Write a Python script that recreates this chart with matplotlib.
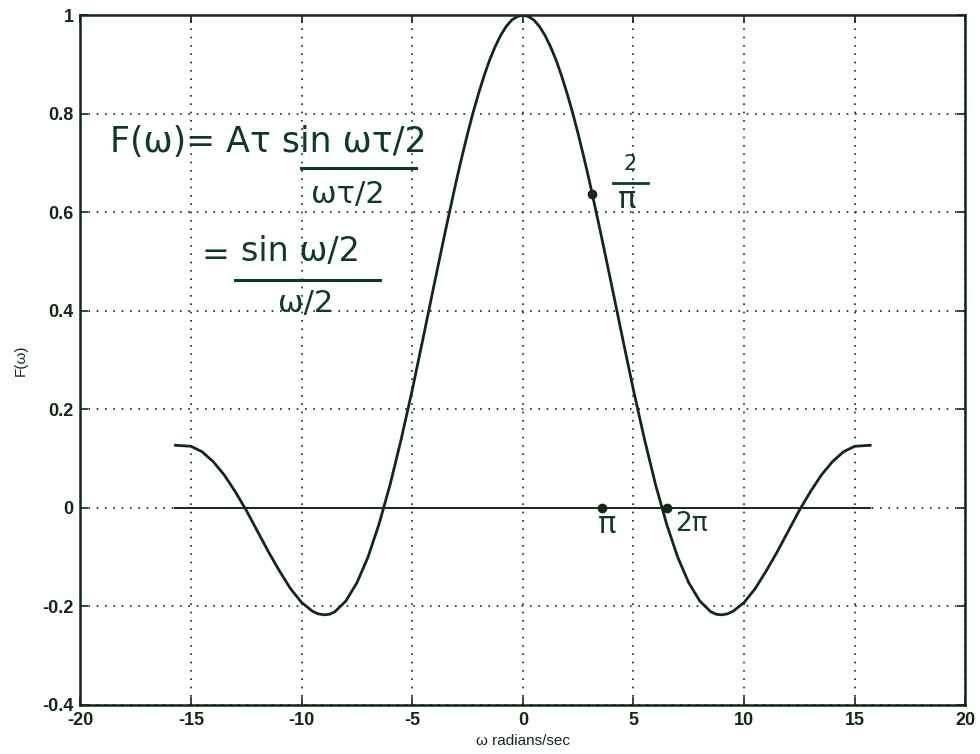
import numpy as np
import matplotlib
matplotlib.use("Agg")
import matplotlib.pyplot as plt

omega = [-15.7, -15.0, -14.5, -14.0, -13.5, -13.0, -12.5, -12.0, -11.5, -11.0, -10.5,
         -10.0, -9.5, -9.25, -9.0, -8.75, -8.5, -8.0, -7.5, -7.0, -6.5, -6.0, -5.5, -5.0, -4.5,
         -4.0, -3.5, -3.0, -2.75, -2.5, -2.25, -2.0, -1.75, -1.5, -1.25, -1.0, -0.75, -0.5, -0.25, 0.0,
         0.25, 0.5, 0.75, 1.0, 1.25, 1.5, 1.75, 2.0, 2.25, 2.5, 2.75, 3.0, 3.5, 4.0, 4.5,
         5.0, 5.5, 6.0, 6.5, 7.0, 7.5, 8.0, 8.5, 8.75, 9.0, 9.25, 9.5, 10.0, 10.5,
         11.0, 11.5, 12.0, 12.5, 13.0, 13.5, 14.0, 14.5, 15.0, 15.7]
F = [0.127, 0.125, 0.114, 0.094, 0.067, 0.033, -0.005, -0.047, -0.089, -0.128, -0.164,
     -0.192, -0.210, -0.215, -0.217, -0.216, -0.211, -0.189, -0.152, -0.100, -0.033, 0.047, 0.139, 0.239, 0.346,
     0.455, 0.562, 0.665, 0.713, 0.759, 0.802, 0.841, 0.877, 0.909, 0.936, 0.959, 0.977, 0.990, 0.997, 1.0,
     0.997, 0.990, 0.977, 0.959, 0.936, 0.909, 0.877, 0.841, 0.802, 0.759, 0.713, 0.665, 0.562, 0.455, 0.346,
     0.239, 0.139, 0.047, -0.033, -0.100, -0.152, -0.189, -0.211, -0.216, -0.217, -0.215, -0.210, -0.192, -0.164,
     -0.128, -0.089, -0.047, -0.005, 0.033, 0.067, 0.094, 0.114, 0.125, 0.127]

zero_line_x = [-15.7, 15.7]
zero_line_y = [0, 0]

marked_x = [3.14, 3.6, 6.5]
marked_y = [0.637, 0.0, 0.0]

x_ticks = [-20, -15, -10, -5, 0, 5, 10, 15, 20]
y_ticks = [-0.4, -0.2, 0, 0.2, 0.4, 0.6, 0.8, 1]
y_ticklabels = ["-0.4", "-0.2", "0", "0.2", "0.4", "0.6", "0.8", "1"]

ink = "#142818"
pen = "#0d3b26"

fig = plt.figure(figsize=(9.8, 7.54), dpi=100)
ax = fig.add_axes([0.082, 0.065, 0.903, 0.915])

ax.plot(omega, F, color=ink, linewidth=2.0)
ax.plot(zero_line_x, zero_line_y, color=ink, linewidth=1.4)
ax.plot(marked_x, marked_y, 'o', color=ink, markersize=6)

ax.set_xlim(-20, 20)
ax.set_ylim(-0.4, 1)
ax.set_xticks(x_ticks)
ax.set_xticklabels([str(t) for t in x_ticks], fontsize=13, fontweight="bold", family="Liberation Sans")
ax.set_yticks(y_ticks)
ax.set_yticklabels(y_ticklabels, fontsize=13, fontweight="bold", family="Liberation Sans")
ax.tick_params(direction="in", top=True, right=True, length=6, width=1.2, colors=ink, pad=5)
ax.grid(True, linestyle=(0, (1, 4)), color=ink, linewidth=1.2)
for s in ax.spines.values():
    s.set_linewidth(1.8)
    s.set_color(ink)

ax.set_xlabel("\u03c9 radians/sec", fontsize=11, family="Liberation Sans", color=ink, labelpad=4)
ax.set_ylabel("F(\u03c9)", fontsize=11, family="Liberation Sans", color=ink, labelpad=10)

# handwritten notes (axes fractions)
tr = ax.transAxes
ax.text(0.034, 0.801, "F(\u03c9)= A\u03c4 sin \u03c9\u03c4/2", transform=tr,
        fontsize=25, color=pen, va="baseline", ha="left")
ax.plot([0.249, 0.379], [0.778, 0.778], color=pen, linewidth=2.2, transform=tr)
ax.text(0.302, 0.727, "\u03c9\u03c4/2", transform=tr,
        fontsize=22, color=pen, va="baseline", ha="center")

ax.text(0.137, 0.638, "=", transform=tr, fontsize=24, color=pen, va="baseline", ha="left")
ax.text(0.181, 0.643, "sin \u03c9/2", transform=tr, fontsize=24, color=pen, va="baseline", ha="left")
ax.plot([0.175, 0.339], [0.616, 0.616], color=pen, linewidth=2.2, transform=tr)
ax.text(0.254, 0.570, "\u03c9/2", transform=tr, fontsize=22, color=pen, va="baseline", ha="center")

ax.text(0.621, 0.776, "2", transform=tr, fontsize=15, color=pen, va="baseline", ha="center")
ax.plot([0.602, 0.642], [0.757, 0.757], color=pen, linewidth=2.0, transform=tr)
ax.text(0.618, 0.721, "\u03c0", transform=tr, fontsize=22, color=pen, va="baseline", ha="center")
ax.text(3.8, -0.051, "\u03c0", fontsize=22, color=pen, va="baseline", ha="center")
ax.text(7.6, -0.046, "2\u03c0", fontsize=19, color=pen, va="baseline", ha="center")

fig.savefig("out.png", dpi=100)
